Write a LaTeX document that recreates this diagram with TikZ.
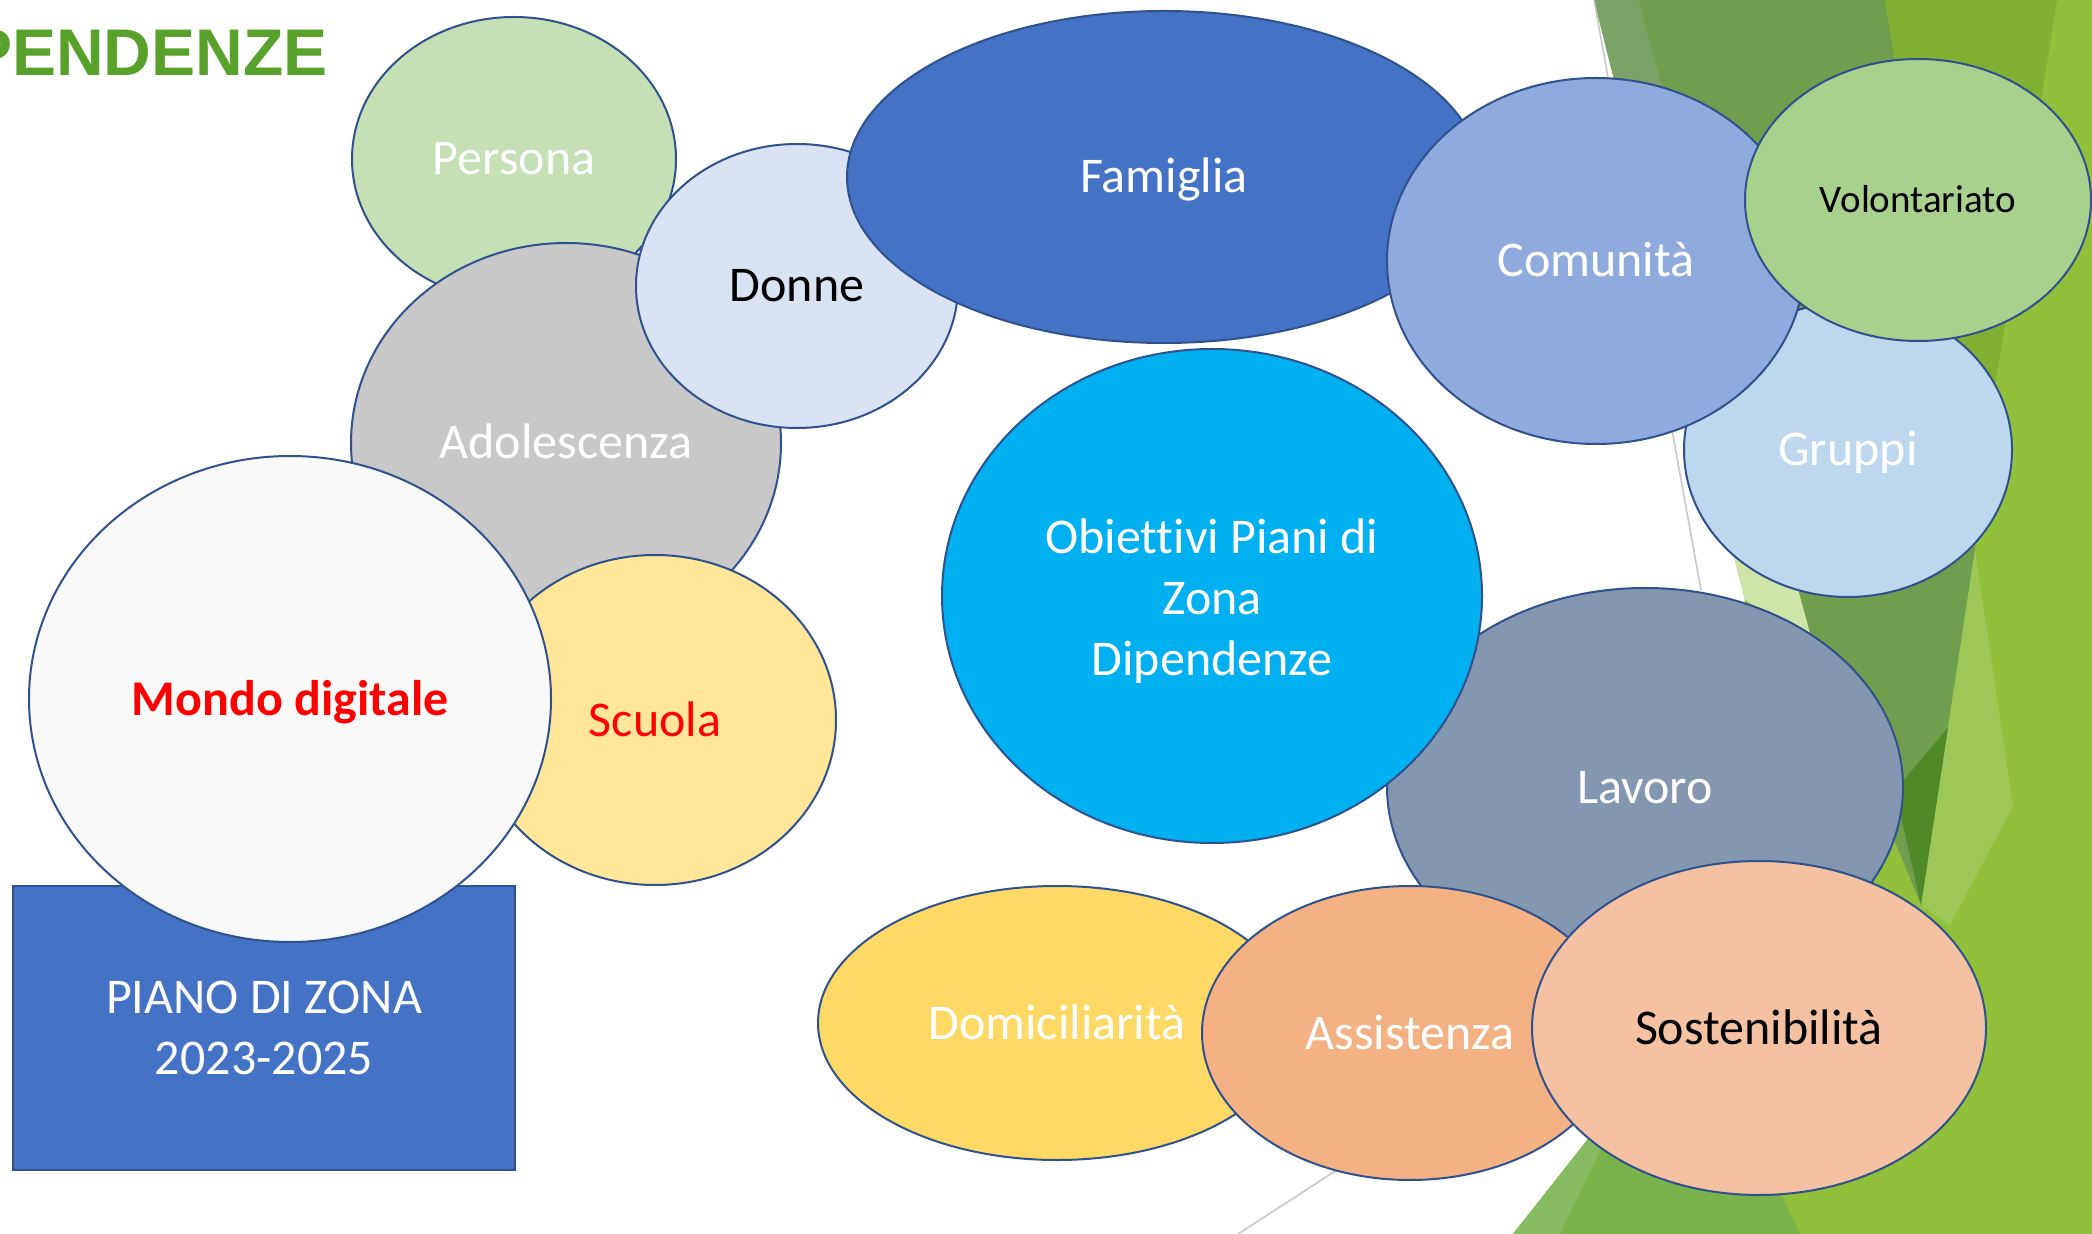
\documentclass[tikz,border=0pt]{standalone}
\usepackage{fontspec}
\setmainfont{Carlito}[Ligatures=NoCommon]
\newfontfamily\titlefont{Liberation Sans}
\usetikzlibrary{shapes.geometric}

\definecolor{bordo}{HTML}{2F528F}
\definecolor{titolo}{HTML}{58A12B}
\definecolor{cPersona}{HTML}{C5E0B4}
\definecolor{cFamiglia}{HTML}{4472C4}
\definecolor{cDonne}{HTML}{DAE3F3}
\definecolor{cAdol}{HTML}{C8C8C8}
\definecolor{cDigitale}{HTML}{F9F9F9}
\definecolor{cScuola}{HTML}{FFE699}
\definecolor{cObiettivi}{HTML}{00B0F0}
\definecolor{cComunita}{HTML}{8FAADC}
\definecolor{cVolont}{HTML}{A9D18E}
\definecolor{cGruppi}{HTML}{BDD7EE}
\definecolor{cLavoro}{HTML}{8497B0}
\definecolor{cDomic}{HTML}{FFD966}
\definecolor{cAssist}{HTML}{F4B183}
\definecolor{cSosten}{HTML}{F4C1A3}
\definecolor{rosso}{HTML}{FF0000}
% sfondo a faccette
\definecolor{fBase}{HTML}{91C13A}
\definecolor{fScuro}{HTML}{6F9E4E}
\definecolor{fChiaro}{HTML}{CFE4A8}
\definecolor{fGrigio}{HTML}{7BA368}
\definecolor{fMedio}{HTML}{80B133}
\definecolor{fLuce}{HTML}{9DC858}
\definecolor{fNotte}{HTML}{4F8A27}
\definecolor{fBasso}{HTML}{7AB24C}
\definecolor{fStriscia}{HTML}{86BB60}
\definecolor{linea}{HTML}{C8C8C8}

\begin{document}
\begin{tikzpicture}[x=0.5pt,y=-0.5pt,
	bolla/.style={
		ellipse, draw=bordo, line width=1pt, inner sep=0pt, align=center,
		text=white, font=\fontsize{25}{30.5}\selectfont,
		text height=20.5pt, text depth=4.5pt
	},
	assi/.style 2 args={minimum width=#1pt, minimum height=#2pt},
	riquadro/.style={
		draw=bordo, line width=1pt, fill=cFamiglia, text=white, align=center,
		minimum width=251pt, minimum height=142pt,
		font=\fontsize{25}{30.5}\selectfont
	},
	filo/.style={draw=linea, line width=0.8pt}
	]
	
	\useasboundingbox (0,0) rectangle (2092,1234);
	\fill[white] (0,0) rectangle (2092,1234);
	
	%==================== sfondo ====================
	\fill[fBase] (1594,0) -- (2092,0) -- (2092,1234) -- (1513,1234) -- (1590,1140) -- (1745,600) -- cycle;
	\fill[fChiaro] (1594,0) -- (1638,0) -- (1812,640) -- (1745,600) -- cycle;
	\fill[fGrigio] (1594,0) -- (1638,0) -- (1720,300) -- (1669,300) -- cycle;
	\fill[fScuro] (1638,0) -- (1885,0) -- (1975,550) -- (1921,905) -- (1812,640) -- cycle;
	\fill[fMedio] (1885,0) -- (2057,0) -- (1993,400) -- (1975,550) -- cycle;
	\fill[fLuce] (1975,550) -- (2013,806) -- (1950,925) -- (1921,905) -- cycle;
	\fill[fNotte] (1895,790) -- (1948,728) -- (1921,905) -- cycle;
	\fill[fBasso] (1513,1234) -- (1595,1130) -- (1760,1150) -- (1800,1234) -- cycle;
	\fill[fStriscia] (1513,1234) -- (1595,1130) -- (1605,1140) -- (1560,1234) -- cycle;
	\draw[filo] (1594,0) -- (1701,590);
	\draw[filo] (1238,1234) -- (1340,1168);
	
	%==================== titolo ====================
	\node[anchor=base east, inner sep=0pt, text=titolo,
	font=\titlefont\bfseries\fontsize{33}{40}\selectfont] (titolo) at (328,76) {PENDENZE};
	
	%==================== lato sinistro ====================
	\node[bolla, assi={162}{142}, fill=cPersona] (persona) at (514,159) {Persona};
	\node[bolla, assi={215}{200}, fill=cAdol] (adolescenza) at (566,443) {Adolescenza};
	\node[bolla, assi={181}{165}, fill=cScuola, text=rosso] (scuola) at (655,720) {Scuola};
	\node[riquadro] (piano) at (264,1028) {PIANO DI ZONA\\2023-2025};
	\node[bolla, assi={261}{243}, fill=cDigitale, text=rosso,
	font=\bfseries\fontsize{25}{30.5}\selectfont] (digitale) at (290,699) {Mondo digitale};
	\node[bolla, assi={161}{142}, fill=cDonne, text=black] (donne) at (797,286) {Donne};
	
	%==================== in alto ====================
	\node[bolla, assi={317}{166}, fill=cFamiglia] (famiglia) at (1164,177) {Famiglia};
	\node[bolla, assi={164}{147}, fill=cGruppi] (gruppi) at (1848,450) {Gruppi};
	\node[bolla, assi={209}{183}, fill=cComunita] (comunita) at (1596,261) {Comunità};
	\node[bolla, assi={173}{141}, fill=cVolont, text=black,
	font=\fontsize{19.5}{24}\selectfont, text height=16pt, text depth=3.5pt] (volontariato) at (1918,200) {Volontariato};
	
	%==================== centro e basso ====================
	\node[bolla, assi={258}{199}, fill=cLavoro] (lavoro) at (1645,787) {Lavoro};
	\node[bolla, assi={270}{247}, fill=cObiettivi, text height=, text depth=] (obiettivi) at (1212,596)
	{\rule{0pt}{22.5pt}Obiettivi Piani di\\Zona\\Dipendenze};
	\node[bolla, assi={239}{137}, fill=cDomic] (domicilio) at (1057,1023) {Domiciliarità};
	\node[bolla, assi={208}{147}, fill=cAssist] (assistenza) at (1410,1033) {Assistenza};
	\node[bolla, assi={227}{167}, fill=cSosten, text=black] (sostenibilita) at (1759,1028) {Sostenibilità};
	
\end{tikzpicture}
\end{document}
